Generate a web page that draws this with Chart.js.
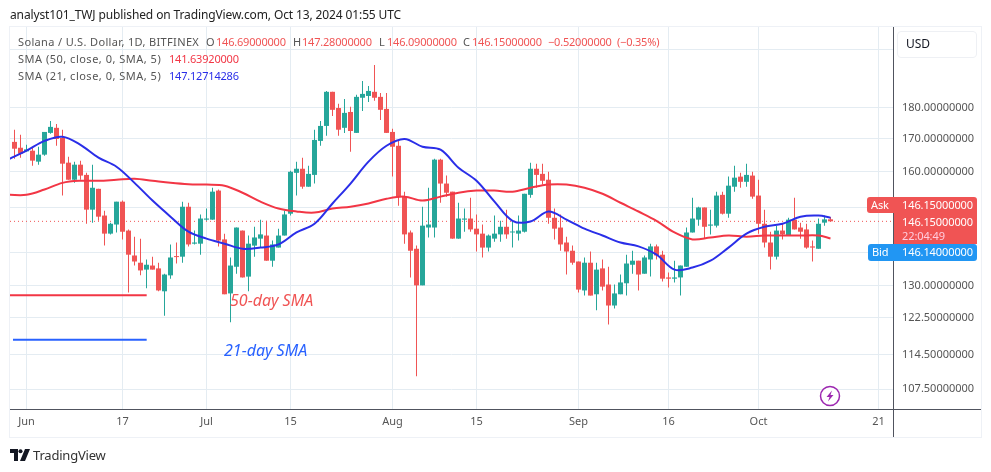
<!DOCTYPE html>
<html>
<head>
<meta charset="utf-8">
<title>Solana / U.S. Dollar</title>
<script src="https://cdn.jsdelivr.net/npm/chart.js@4"></script>
<style>
    html, body { margin: 0; padding: 0; background: #fff; }
    #page { position: relative; width: 991px; height: 472px; overflow: hidden; font-family: "Noto Sans", sans-serif; font-size: 11px; color: #555; }
    #page canvas { position: absolute; left: 0; top: 0; }
    .t { position: absolute; white-space: nowrap; line-height: 14px; }
    .sp { letter-spacing: 0.35px; }
    .num { letter-spacing: -0.2px; }
    .frame { position: absolute; left: 9px; top: 26px; width: 971px; height: 410px; border: 1px solid #eef1f6; }
    .line { position: absolute; background: #50535e; }
    .red { color: #f05454; }
    .badge { position: absolute; color: #fff; font-size: 11px; letter-spacing: -0.1px; }
</style>
</head>
<body>
<div id="page">
    <canvas id="priceChart" width="991" height="472"></canvas>
    <div class="frame"></div>
    <div class="line" style="left:10px;top:409px;width:971px;height:1px"></div>
    <div class="line" style="left:893px;top:27px;width:1px;height:410px"></div>

    <div class="t" style="left:10px;top:8px;color:#222;font-size:12px;letter-spacing:-0.12px">analyst101_TWJ published on TradingView.com, Oct 13, 2024 01:55 UTC</div>

    <div class="t sp" style="left:18px;top:35px">Solana / U.S. Dollar, 1D, BITFINEX</div>
    <div class="t" style="left:206px;top:35px">O</div><div class="t red num" style="left:216px;top:35px">146.69000000</div>
    <div class="t" style="left:293px;top:35px">H</div><div class="t red num" style="left:302px;top:35px">147.28000000</div>
    <div class="t" style="left:379px;top:35px">L</div><div class="t red num" style="left:387px;top:35px">146.09000000</div>
    <div class="t" style="left:463px;top:35px">C</div><div class="t red num" style="left:472px;top:35px">146.15000000</div>
    <div class="t red num" style="left:548px;top:35px">−0.52000000</div>
    <div class="t red num" style="left:617px;top:35px">(−0.35%)</div>

    <div class="t" style="left:18px;top:52px;letter-spacing:0.5px">SMA (50, close, 0, SMA, 5)</div>
    <div class="t num" style="left:169px;top:52px;color:#f23645">141.63920000</div>
    <div class="t" style="left:18px;top:69px;letter-spacing:0.5px">SMA (21, close, 0, SMA, 5)</div>
    <div class="t num" style="left:169px;top:69px;color:#2a2ee8">147.12714286</div>

    <div class="t" style="left:230px;top:291px;font-size:16px;line-height:18px;font-style:italic;color:#f05454">50-day SMA</div>
    <div class="t" style="left:224px;top:341px;font-size:16px;line-height:18px;font-style:italic;color:#2962ff">21-day SMA</div>

    <!-- right side price badges -->
    <div style="position:absolute;left:897px;top:31px;width:78px;height:25px;border:1px solid #eef0f4;border-radius:4px"></div>
    <div class="t" style="left:906px;top:37px;color:#131722;font-size:12px">USD</div>

    <div style="position:absolute;left:867px;top:197px;width:27px;height:16px;background:#f05454;border-radius:3px 0 0 3px"></div>
    <div style="position:absolute;left:894px;top:197px;width:83px;height:47px;background:#f05454;border-radius:0 3px 0 0"></div>
    <div class="t badge" style="left:871px;top:198px">Ask</div>
    <div class="t badge" style="left:902px;top:198px">146.15000000</div>
    <div class="t badge" style="left:902px;top:215px">146.15000000</div>
    <div class="t badge" style="left:902px;top:229px;color:#fcd">22:04:49</div>

    <div style="position:absolute;left:868px;top:244px;width:109px;height:17px;background:#2196f3;border-radius:3px"></div>
    <div class="t badge" style="left:872px;top:245px">Bid</div>
    <div class="t badge" style="left:902px;top:245px">146.14000000</div>

    <svg style="position:absolute;left:819px;top:385px" width="22" height="22" viewBox="0 0 22 22">
        <circle cx="11" cy="11" r="9.5" fill="#fff" stroke="#9c27b0" stroke-width="1.5"/>
        <path d="M13 5.5 L7.5 12 L10.5 12 L9 16.5 L14.5 10 L11.5 10 Z" fill="#9c27b0"/>
    </svg>

    <svg style="position:absolute;left:10px;top:449px" width="20" height="12" viewBox="0 0 20 12">
        <path d="M0 0 H8 V12 H4 V4 H0 Z M15 0 H20 L15 12 H10 Z" fill="#131722"/>
        <circle cx="10.5" cy="2.2" r="2" fill="#131722"/>
    </svg>
    <div class="t" style="left:33px;top:448px;font-size:13px;color:#333;letter-spacing:-0.2px">TradingView</div>
</div>

<script>
// days counted from Jun 1, candles start two days before it
const firstDay = -2;
const opens = [169.0,167.2,166.1,166.3,163.0,165.1,171.8,173.4,170.2,162.7,157.7,162.1,159.1,149.3,155.1,147.7,142.9,145.3,151.5,143.7,137.3,135.5,133.8,134.8,134.1,128.6,132.4,137.0,137.0,150.1,140.3,140.3,146.6,146.6,154.6,141.4,128.1,134.5,143.7,132.1,139.8,141.6,142.4,136.0,139.3,142.4,148.2,159.7,160.9,155.7,159.1,169.3,174.0,185.2,179.8,173.4,178.5,171.8,183.2,183.8,185.2,183.5,179.5,172.1,167.8,152.9,143.2,139.0,130.0,144.5,144.5,163.6,156.6,154.3,141.6,146.6,146.9,144.2,142.9,139.3,141.6,142.7,144.7,143.2,142.9,143.4,153.4,160.9,159.4,157.7,147.1,144.5,140.6,138.5,135.8,128.8,135.5,127.9,134.1,130.2,125.3,127.9,130.5,135.0,136.0,132.8,136.3,139.6,137.5,131.9,131.6,131.9,134.5,143.2,146.6,149.9,145.0,145.0,153.4,148.2,155.7,158.6,157.1,158.9,153.2,145.5,140.6,137.0,143.7,142.4,146.6,144.5,144.0,139.6,139.0,145.8,146.69];
const highs = [172.8,171.2,168.1,167.2,167.5,172.1,175.6,174.6,172.8,164.5,163.0,163.3,159.7,162.1,155.1,149.0,145.8,151.5,151.8,144.0,142.1,141.6,136.3,137.0,135.5,132.8,140.1,140.6,151.5,151.2,143.7,148.0,149.6,155.4,154.9,142.9,136.8,144.5,143.7,142.4,144.7,146.6,146.3,141.1,144.2,149.0,160.3,163.0,164.2,161.8,172.8,175.6,185.5,185.2,181.2,182.8,180.2,184.2,188.9,187.2,194.5,184.8,184.8,173.1,169.6,154.3,143.7,139.8,150.1,155.4,163.9,163.9,158.9,154.3,151.2,149.6,152.6,148.0,145.3,142.7,147.7,146.3,149.3,146.1,147.7,153.7,162.7,162.4,162.4,160.0,149.6,148.0,142.1,139.8,135.8,136.8,138.3,135.5,136.3,134.5,130.2,132.6,137.5,138.5,136.0,137.3,140.3,140.1,138.5,133.1,136.0,134.8,144.5,152.6,150.1,149.9,149.3,154.3,154.3,158.6,161.8,159.7,162.4,160.0,157.7,149.3,143.4,145.0,145.5,147.1,152.6,145.8,145.5,141.1,146.9,147.7,147.28];
const lows = [163.9,164.2,166.0,161.8,162.1,164.8,171.5,167.8,153.2,157.7,156.8,157.7,145.5,145.8,146.3,139.8,142.7,143.2,141.4,128.3,134.8,132.4,129.3,133.8,128.6,123.0,131.6,135.3,135.5,139.6,140.1,137.5,146.3,146.6,139.6,127.9,121.5,132.8,131.9,128.6,137.0,139.3,136.0,134.5,139.3,142.4,147.7,153.2,155.1,155.7,156.6,167.8,170.9,177.2,170.9,171.8,166.0,171.8,178.8,181.8,182.2,175.9,171.8,158.6,150.4,140.3,131.9,110.1,130.0,141.9,141.9,151.2,152.9,141.6,141.6,143.4,143.4,138.3,136.8,138.3,140.8,140.8,141.6,139.3,141.1,143.2,152.6,155.4,156.3,145.5,141.4,138.5,132.6,135.0,128.3,127.6,127.6,124.2,128.8,121.0,124.6,127.9,127.6,132.8,128.8,132.8,132.1,136.3,130.9,129.5,130.7,127.6,134.5,143.2,145.0,141.6,142.7,144.5,148.0,147.1,154.3,155.4,155.7,152.3,142.9,139.3,133.8,136.3,141.4,142.4,144.0,141.6,139.0,135.8,139.0,145.0,146.09];
const closes = [166.9,165.4,166.7,163.3,165.1,172.1,173.7,169.9,162.4,157.7,162.1,158.9,149.3,155.4,147.4,142.9,145.5,151.5,143.4,137.5,135.8,133.6,135.0,133.8,128.8,132.6,136.8,136.9,150.1,140.1,140.6,146.9,146.9,154.3,141.1,127.9,134.8,144.5,131.9,140.3,141.9,142.7,136.0,140.1,142.4,148.0,160.0,160.9,155.7,159.4,169.6,174.0,185.2,179.2,172.8,178.2,172.4,183.5,184.5,185.5,183.2,179.2,171.8,167.5,152.9,142.7,138.5,130.0,145.0,145.3,163.6,156.6,154.0,141.6,146.9,146.9,144.0,142.7,139.3,142.4,142.9,144.7,142.7,143.4,143.7,153.7,160.9,159.1,157.4,147.1,144.2,140.1,138.3,135.5,129.0,135.5,127.6,133.8,129.7,125.3,128.1,130.7,135.3,136.0,132.6,136.8,139.6,137.3,131.6,131.6,131.9,134.8,143.2,146.9,149.9,144.7,145.3,153.2,148.2,156.0,158.3,157.1,159.1,152.9,145.5,140.6,137.0,143.7,142.7,146.6,144.0,143.4,139.3,139.3,145.5,146.67,146.15];

// moving averages, read every third day
const smaDays = [-3,0,3,6,9,12,15,18,21,24,27,30,33,36,39,42,45,48,51,54,57,60,63,66,69,72,75,78,81,84,87,90,93,96,99,102,105,108,111,114,117,120,123,126,129,132,134];
const sma21 = [163.7,166.3,169.3,170.6,168.1,164.2,161.5,156.8,151.8,147.4,143.4,141.6,140.3,139.0,139.3,140.1,143.2,145.5,151.0,156.6,163.0,167.8,169.9,167.5,166.6,161.2,157.4,151.5,146.3,146.1,148.8,146.6,144.2,142.4,140.6,139.6,137.5,133.8,134.3,136.0,139.3,142.9,144.7,145.5,147.4,147.7,147.13];
const sma50 = [153.4,153.4,154.9,156.8,157.4,157.4,157.7,158.0,157.4,156.8,156.4,156.3,156.0,154.0,151.5,149.6,148.8,148.5,149.6,150.1,151.0,152.3,152.9,151.8,152.9,154.0,154.6,154.6,154.3,155.4,156.3,156.3,155.4,153.7,151.2,148.8,146.3,143.2,141.4,141.9,142.4,142.1,142.4,142.4,142.4,142.4,141.64];

// hand drawn lines next to the notes
const note50Days = [-2.75, 20.03];
const note50Price = 127.7;
const note21Days = [-2.25, 20.03];
const note21Price = 117.7;

const priceTicks = [200, 180, 170, 160, 150, 138, 130, 122.5, 114.5, 107.5];
const hiddenPriceTicks = [200, 150, 138]; // sit under the USD button and the badges
const dayTicks = [0, 16, 30, 44, 61, 75, 92, 107, 122, 142];
const dayTickLabels = ['Jun', '17', 'Jul', '15', 'Aug', '15', 'Sep', '16', 'Oct', '21'];
const lastPrice = 146.15;

const dayMin = -2.75;
const dayMax = 144.417;
const priceMin = 103.7;
const priceMax = 208.5;

const RED = '#f05454';
const GREEN = '#26a69a';

const candleColors = closes.map((c, i) => c < opens[i] ? RED : GREEN);
const wickData = lows.map((l, i) => ({ x: firstDay + i, y: [l, highs[i]] }));
const bodyData = opens.map((o, i) => ({ x: firstDay + i, y: [o, closes[i]] }));

new Chart(document.getElementById('priceChart').getContext('2d'), {
    type: 'bar',
    data: {
        datasets: [
            {
                label: 'Last price',
                type: 'line',
                data: [{ x: dayMin, y: lastPrice }, { x: dayMax, y: lastPrice }],
                borderColor: RED,
                borderWidth: 1,
                borderDash: [1, 3],
                pointRadius: 0,
                order: 5
            },
            {
                label: 'Wicks',
                data: wickData,
                backgroundColor: candleColors,
                barThickness: 1,
                grouped: false,
                borderWidth: 0,
                inflateAmount: 0,
                order: 4
            },
            {
                label: 'Bodies',
                data: bodyData,
                backgroundColor: candleColors,
                barThickness: 5,
                minBarLength: 1,
                grouped: false,
                borderWidth: 0,
                inflateAmount: 0,
                order: 3
            },
            {
                label: 'SMA 50',
                type: 'line',
                data: smaDays.map((d, i) => ({ x: d, y: sma50[i] })),
                borderColor: '#f23645',
                borderWidth: 2,
                pointRadius: 0,
                tension: 0.35,
                order: 2
            },
            {
                label: 'SMA 21',
                type: 'line',
                data: smaDays.map((d, i) => ({ x: d, y: sma21[i] })),
                borderColor: '#2a2ee8',
                borderWidth: 2,
                pointRadius: 0,
                tension: 0.35,
                order: 1
            },
            {
                label: '50-day SMA',
                type: 'line',
                data: note50Days.map(d => ({ x: d, y: note50Price })),
                borderColor: '#f23645',
                borderWidth: 2,
                pointRadius: 0,
                order: 1
            },
            {
                label: '21-day SMA',
                type: 'line',
                data: note21Days.map(d => ({ x: d, y: note21Price })),
                borderColor: '#2962ff',
                borderWidth: 2,
                pointRadius: 0,
                order: 1
            }
        ]
    },
    options: {
        responsive: false,
        animation: false,
        layout: { padding: { left: 10, top: 27, right: 10, bottom: 35 } },
        plugins: { legend: { display: false }, tooltip: { enabled: false }, title: { display: false } },
        scales: {
            x: {
                type: 'linear',
                min: dayMin,
                max: dayMax,
                offset: false,
                border: { display: false },
                grid: { color: '#e4ecf2', offset: false, drawTicks: false },
                afterBuildTicks: scale => { scale.ticks = dayTicks.map(d => ({ value: d })); },
                afterFit: scale => { scale.height = 28; },
                ticks: {
                    autoSkip: false,
                    maxRotation: 0,
                    padding: 6,
                    color: '#555',
                    font: { family: 'Noto Sans', size: 11 },
                    callback: value => dayTickLabels[dayTicks.indexOf(value)]
                }
            },
            y: {
                type: 'logarithmic',
                position: 'right',
                min: priceMin,
                max: priceMax,
                border: { display: false },
                grid: { color: '#e4ecf2', drawTicks: false },
                afterBuildTicks: scale => { scale.ticks = priceTicks.map(v => ({ value: v })); },
                afterFit: scale => { scale.width = 88; },
                ticks: {
                    autoSkip: false,
                    padding: 9,
                    color: '#555',
                    font: { family: 'Noto Sans', size: 11 },
                    callback: value => hiddenPriceTicks.includes(value) ? '' : value.toFixed(8)
                }
            }
        }
    }
});
</script>
</body>
</html>
